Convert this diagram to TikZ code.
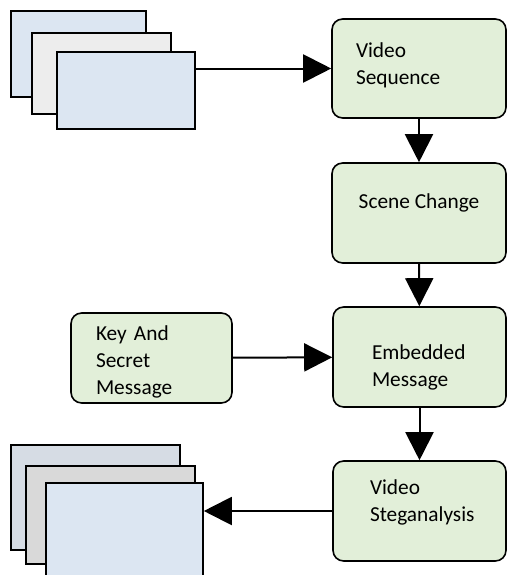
\documentclass[tikz,border=0pt]{standalone}
\usepackage{fontspec}
\setmainfont{Carlito}
\usetikzlibrary{arrows.meta,positioning,calc}
\definecolor{boxgreen}{HTML}{E2EFD9}
\definecolor{paleblue}{HTML}{DCE6F2}
\definecolor{palegray}{HTML}{EDEDED}
\definecolor{slateblue}{HTML}{D6DCE4}
\definecolor{midgray}{HTML}{D9D9D9}

\begin{document}
\begin{tikzpicture}[x=0.75pt,y=-0.75pt,>={Triangle[length=21pt,width=21pt]},
  stepbox/.style={draw,line width=1.2pt,rounded corners=8pt,fill=boxgreen,
    font=\fontsize{16}{20.25}\selectfont,align=left,text height=11pt},
  frame/.style={draw,line width=1.2pt,fill=#1,inner sep=0pt},
  link/.style={->,line width=1.5pt}]
\useasboundingbox (0,0) rectangle (507,575);
\clip (0,0) rectangle (507,575);

% input frames
\node[frame=paleblue,minimum width=101.25pt,minimum height=64.5pt] (srcback) at (78.5,54) {};
\node[frame=palegray,minimum width=104.25pt,minimum height=60.75pt] (srcmid) at (101.5,73.5) {};
\node[frame=paleblue,minimum width=103.5pt,minimum height=57.75pt] (srcfront) at (126,90.5) {};

% processing steps
\node[stepbox,minimum width=130.5pt,minimum height=74.25pt,inner xsep=18pt,text width=94.5pt,text depth=27.7pt] (seq) at (419,68.5) {Video\\Sequence};
\node[stepbox,align=center,minimum width=130.5pt,minimum height=75pt,text depth=18.5pt] (scene) at (419,213) {Scene Change};
\node[stepbox,minimum width=129.75pt,minimum height=75pt,inner xsep=29.25pt,text width=71.25pt,text depth=7.4pt] (embed) at (419.5,357) {Embedded\\Message};
\node[stepbox,minimum width=129.75pt,minimum height=75pt,inner xsep=27.75pt,text width=74.25pt,text depth=35.2pt] (steg) at (419.5,511) {Video\\Steganalysis};
\node[stepbox,minimum width=120.75pt,minimum height=67.5pt,inner xsep=18.75pt,text width=83.25pt,text depth=37.5pt] (key) at (151.5,358) {Key And\\Secret\\Message};

% output frames
\node[frame=slateblue,minimum width=126.75pt,minimum height=78.75pt] (outback) at (95.5,497.5) {};
\node[frame=midgray,minimum width=126.75pt,minimum height=73.5pt] (outmid) at (110.5,515) {};
\node[frame=paleblue,minimum width=117.75pt,minimum height=87.75pt] (outfront) at (124.5,541.5) {};

\draw[link] (seq.west -| srcfront.east) -- (seq.west);
\draw[link] (seq) -- (scene);
\draw[link] (scene) -- (embed);
\draw[link] (key) -- (embed);
\draw[link] (embed) -- (steg);
\draw[link] (steg.west) -- (steg.west -| outfront.east);
\end{tikzpicture}
\end{document}
